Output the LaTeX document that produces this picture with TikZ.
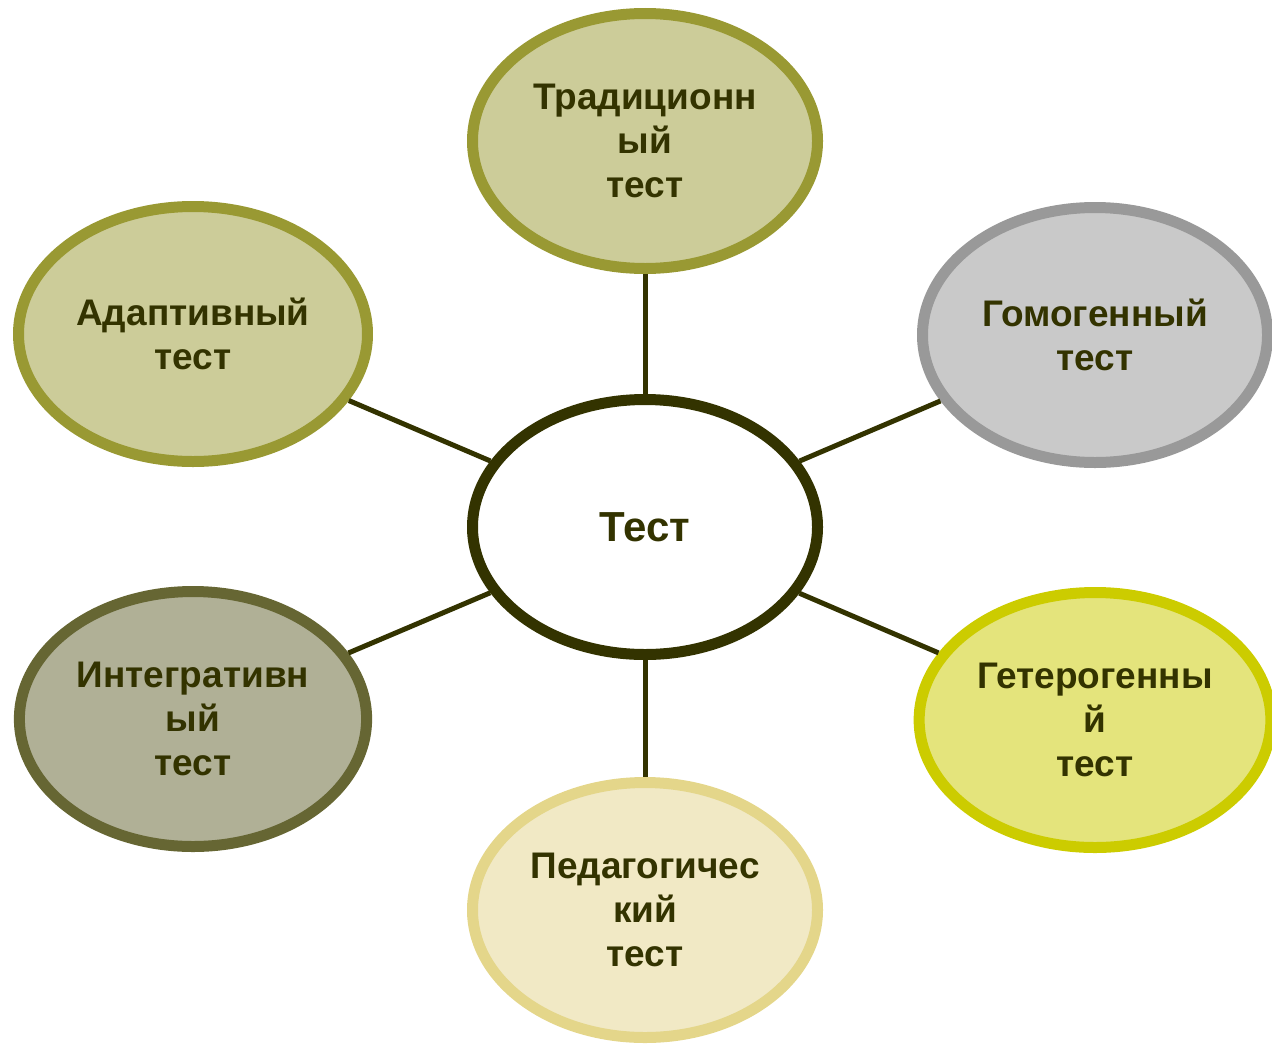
\documentclass[tikz,border=0pt]{standalone}
\usepackage{fontspec}
\setmainfont{Liberation Sans}
\usepackage{xcolor}
\usetikzlibrary{shapes.geometric}

\definecolor{olivetext}{HTML}{333300}
\definecolor{olivefill}{HTML}{CCCC99}
\definecolor{oliveline}{HTML}{999933}
\definecolor{greyfill}{HTML}{C9C9C9}
\definecolor{greyline}{HTML}{999999}
\definecolor{limefill}{HTML}{E4E47C}
\definecolor{limeline}{HTML}{CCCC00}
\definecolor{creamfill}{HTML}{F1E9C5}
\definecolor{creamline}{HTML}{E4D68A}
\definecolor{mossfill}{HTML}{B0B096}
\definecolor{mossline}{HTML}{666633}

\begin{document}
\begin{tikzpicture}[x=0.5pt,y=-0.5pt,
    bubble/.style={ellipse, draw, line width=5.5pt, minimum width=172.5pt, minimum height=127.5pt,
        align=center, text=olivetext, font=\bfseries\fontsize{18.5}{22}\selectfont},
    link/.style={draw=olivetext, line width=2.5pt}]
    \useasboundingbox (0,0) rectangle (1272,1044);

    \node (test) at (645,527) [bubble, draw=olivetext, fill=white,
        font=\bfseries\fontsize{21}{25}\selectfont] {Тест};

    \node (trad) at (645,141) [bubble, draw=oliveline, fill=olivefill] {Традиционн\\ый\\тест};
    \node (adapt) at (193,334) [bubble, draw=oliveline, fill=olivefill] {Адаптивный\\тест};
    \node (homo) at (1095,335) [bubble, draw=greyline, fill=greyfill] {Гомогенный\\тест};
    \node (integr) at (193,719) [bubble, draw=mossline, fill=mossfill] {Интегративн\\ый\\тест};
    \node (hetero) at (1095,720) [bubble, draw=limeline, fill=limefill] {Гетерогенны\\й\\тест};
    \node (pedag) at (645,910) [bubble, draw=creamline, fill=creamfill] {Педагогичес\\кий\\тест};

    % spokes
    \foreach \leaf in {trad,adapt,homo,integr,hetero,pedag}
        \draw[link] (test) -- (\leaf);
\end{tikzpicture}
\end{document}
